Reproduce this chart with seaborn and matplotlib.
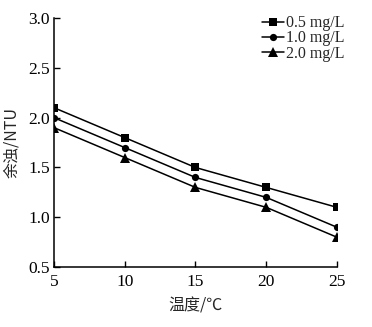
import matplotlib
matplotlib.use("Agg")
import matplotlib.pyplot as plt
import seaborn as sns
import pandas as pd

temperature = [5, 10, 15, 20, 25]
dose_labels = ["0.5 mg/L", "1.0 mg/L", "2.0 mg/L"]
turbidity_05 = [2.1, 1.8, 1.5, 1.3, 1.1]
turbidity_10 = [2.0, 1.7, 1.4, 1.2, 0.9]
turbidity_20 = [1.9, 1.6, 1.3, 1.1, 0.8]

series = [turbidity_05, turbidity_10, turbidity_20]
df = pd.DataFrame({
    "温度": temperature * 3,
    "余浊": sum(series, []),
    "投加量": [lab for lab in dose_labels for _ in temperature],
})

sns.set_theme(style="ticks")
plt.rcParams["font.family"] = ["Liberation Serif", "Noto Sans CJK SC"]

fig = plt.figure(figsize=(3.72, 3.27), dpi=100)
ax = fig.add_axes([0.145, 0.183, 0.761, 0.762])

sizes = [6, 5.2, 6.5]
sns.lineplot(
    data=df, x="温度", y="余浊", hue="投加量", style="投加量",
    palette=["black"] * 3, markers=["s", "o", "^"], dashes=False,
    markersize=6, markeredgewidth=0, linewidth=1.1, ax=ax,
)
# slightly different marker sizes per series
for line, ms in zip(ax.lines[:3], sizes):
    line.set_markersize(ms)

ax.set_xlim(5, 25)
ax.set_ylim(0.5, 3.0)
ax.set_xticks([5, 10, 15, 20, 25])
ax.set_yticks([0.5, 1.0, 1.5, 2.0, 2.5, 3.0])
ax.set_yticklabels(["0.5", "1.0", "1.5", "2.0", "2.5", "3.0"])
ax.tick_params(direction="in", length=4, width=1, labelsize=12.5, colors="black")
ax.tick_params(axis="x", pad=5)
ax.tick_params(axis="y", pad=3)
for s in ["top", "right"]:
    ax.spines[s].set_visible(False)
for s in ["left", "bottom"]:
    ax.spines[s].set_linewidth(1.1)
    ax.spines[s].set_color("black")

ax.set_xlabel("温度/℃", fontsize=11.5, family=["Noto Sans CJK SC", "DejaVu Sans"], labelpad=5)
ax.set_ylabel("余浊/NTU", fontsize=11.5, family=["Noto Sans CJK SC", "DejaVu Sans"], labelpad=6)

leg = ax.legend(
    loc="upper right", bbox_to_anchor=(1.06, 1.05), frameon=False,
    fontsize=11.5, handlelength=1.4, handletextpad=0.1, labelspacing=-0.05,
    borderaxespad=0.2,
)
for h, ms in zip(leg.legend_handles, sizes):
    h.set_markersize(ms)

fig.savefig("out.png", dpi=100)
